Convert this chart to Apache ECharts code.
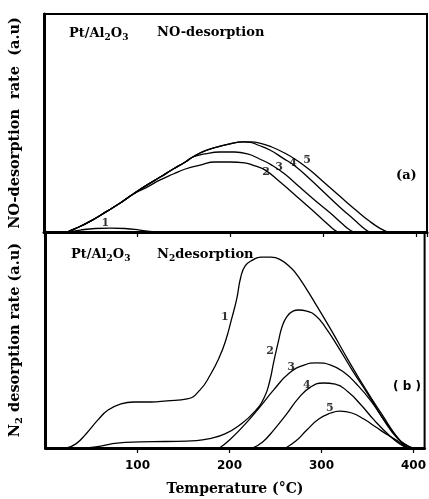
<!DOCTYPE html>
<html>
<head>
<meta charset="utf-8">
<script src="https://cdn.jsdelivr.net/npm/echarts@6/dist/echarts.min.js"></script>
<style>
  html, body { margin: 0; padding: 0; background: #fff; }
  #chart { width: 429px; height: 499px; }
</style>
</head>
<body>
<div id="chart"></div>
<script>
// Temperature axis ticks (°C)
const tempTicks = [100, 200, 300, 400];

// (a) NO-desorption rate, [temperature °C, rate a.u.]
const noCurve1 = [[25,0],[39,0.9],[55,1.6],[71,1.8],[87,1.6],[103,0.9],[119,0]];
const noCurve2 = [[25,0],[33,1.4],[50,5.0],[68,9.6],[82,13.3],[96,17.4],[111,20.6],[125,23.9],[139,26.6],[152,28.9],[168,30.7],[184,32.1],[200,32.1],[216,31.7],[227,30.3],[238,28.4],[254,22.9],[270,17.0],[286,11.0],[299,6.0],[311,1.4],[316,0]];
const noCurve3 = [[25,0],[33,1.4],[50,5.0],[68,9.6],[82,13.3],[96,17.4],[111,21.6],[125,25.2],[139,28.9],[152,32.1],[160,34.4],[173,35.8],[189,36.7],[205,36.7],[219,35.8],[232,33.5],[245,30.7],[259,26.6],[275,20.6],[291,14.7],[308,8.7],[320,4.1],[329,0.9],[334,0]];
const noCurve4 = [[25,0],[33,1.4],[50,5.0],[68,9.6],[82,13.3],[96,17.4],[111,21.6],[125,25.2],[139,28.9],[152,32.1],[160,34.4],[173,37.2],[187,39.0],[200,40.4],[214,41.3],[222,41.1],[230,39.9],[243,37.6],[257,33.9],[270,30.3],[286,24.3],[302,17.9],[318,11.5],[334,5.5],[345,1.4],[350,0]];
const noCurve5 = [[25,0],[33,1.4],[50,5.0],[68,9.6],[82,13.3],[96,17.4],[111,21.6],[125,25.2],[139,28.9],[152,32.1],[160,34.4],[173,37.2],[187,39.0],[200,40.4],[214,41.3],[222,41.3],[232,40.8],[245,39.0],[259,36.2],[273,32.6],[286,28.4],[302,22.5],[318,16.5],[334,10.6],[350,5.0],[361,1.8],[370,0]];
const noLabels = [[66,4.1,'1'],[239,27.5,'2'],[253,29.8,'3'],[268,31.7,'4'],[283,33.0,'5']];

// (b) N2 desorption rate, [temperature °C, rate a.u.]
const n2Curve1 = [[23,0],[33,1.9],[44,6.5],[57,13.0],[68,17.6],[82,20.4],[96,21.3],[114,21.3],[132,21.8],[154,22.7],[168,26.9],[179,33.8],[189,42.1],[196,50.0],[202,59.3],[208,69.4],[212,78.7],[217,84.3],[225,87.0],[234,88.4],[245,88.4],[256,87.0],[267,83.3],[275,79.2],[293,67.1],[311,54.2],[329,40.7],[347,27.8],[366,15.3],[383,4.6],[394,0.9],[400,0]];
const n2Curve2 = [[45,0],[60,0.9],[78,2.3],[103,2.8],[130,3.0],[164,3.4],[180,4.5],[195,6.5],[211,10.6],[227,16.7],[238,23.6],[244,31.5],[248,39.8],[253,49.1],[257,56.0],[262,60.6],[269,63.4],[275,63.9],[284,63.4],[294,61.1],[304,56.0],[318,46.8],[334,35.6],[351,24.5],[367,13.4],[383,4.2],[394,0.9],[399,0]];
const n2Curve3 = [[189,0],[200,3.7],[216,10.6],[232,18.5],[248,26.9],[265,34.7],[281,38.4],[295,39.4],[310,38.4],[324,35.2],[338,29.6],[353,22.2],[368,13.0],[381,5.6],[391,0.9],[396,0]];
const n2Curve4 = [[225,0],[236,2.8],[248,8.3],[262,15.7],[275,23.1],[288,28.2],[302,30.1],[315,29.6],[329,25.9],[343,19.9],[357,13.0],[372,6.5],[385,1.9],[394,0]];
const n2Curve5 = [[261,0],[272,3.2],[284,8.3],[297,13.4],[310,16.2],[320,17.1],[333,16.2],[346,13.4],[359,9.7],[372,6.0],[383,3.2],[391,0.9],[396,0]];
const n2Labels = [[195,60.6,'1'],[244,44.9,'2'],[267,37.5,'3'],[284,29.2,'4'],[309,18.5,'5']];

const SERIF = '"DejaVu Serif", "Liberation Serif", serif';
const SANS = '"DejaVu Sans", "Liberation Sans", sans-serif';

function curve(data, idx) {
  return {
    type: 'line', data: data, xAxisIndex: idx, yAxisIndex: idx,
    showSymbol: false, smooth: 0.5,
    lineStyle: { color: '#000', width: 1.3 }, silent: true
  };
}
function labelSeries(data, idx) {
  return {
    type: 'scatter', data: data, xAxisIndex: idx, yAxisIndex: idx,
    symbolSize: 0, silent: true,
    label: {
      show: true, position: 'inside', color: '#000',
      fontFamily: SERIF, fontWeight: 'bold', fontSize: 11,
      formatter: p => p.value[2]
    }
  };
}

const xCommon = {
  type: 'value', min: 0, max: 412, interval: 100,
  splitLine: { show: false },
  axisLine: { lineStyle: { color: '#000', width: 3 } },
  axisTick: { inside: false, length: 5, lineStyle: { color: '#000', width: 1.2 } }
};
const yCommon = {
  type: 'value', min: 0, max: 100,
  splitLine: { show: false }, axisLabel: { show: false }, axisTick: { show: false },
  axisLine: { lineStyle: { color: '#000', width: 3 } },
  nameLocation: 'middle', nameRotate: 90, nameGap: 21,
  nameTextStyle: { fontFamily: SERIF, fontWeight: 'bold', fontSize: 14.5, color: '#000',
    rich: { s: { fontFamily: SERIF, fontWeight: 'bold', fontSize: 10, color: '#000', verticalAlign: 'bottom', padding: [8, 0, 0, 0] } } }
};

const subRich = { s: { fontFamily: SERIF, fontWeight: 'bold', fontSize: 9, color: '#000', padding: [7, 0, 0, 0] } };
const titleStyle = { fontFamily: SERIF, fontWeight: 'bold', fontSize: 13, color: '#000', rich: subRich };

const chart = echarts.init(document.getElementById('chart'), null, { renderer: 'canvas' });
chart.setOption({
  animation: false,
  backgroundColor: '#fff',
  title: [
    { text: 'Pt/Al{s|2}O{s|3}', left: 64, top: 21, textStyle: titleStyle },
    { text: 'NO-desorption', left: 152, top: 21, textStyle: titleStyle },
    { text: '(a)', left: 391, top: 164, textStyle: titleStyle },
    { text: 'Pt/Al{s|2}O{s|3}', left: 66, top: 242, textStyle: titleStyle },
    { text: 'N{s|2}desorption', left: 152, top: 242, textStyle: titleStyle },
    { text: '( b )', left: 388, top: 376, textStyle: Object.assign({}, titleStyle, { fontFamily: SANS, fontSize: 12 }) }
  ],
  grid: [
    { left: 43, right: 2, top: 14, height: 218, show: true, borderColor: '#000', borderWidth: 2, containLabel: false },
    { left: 43, right: 2, top: 232, height: 216, show: true, borderColor: '#000', borderWidth: 2, containLabel: false }
  ],
  xAxis: [
    Object.assign({}, xCommon, { gridIndex: 0, axisLabel: { show: false } }),
    Object.assign({}, xCommon, {
      gridIndex: 1,
      name: 'Temperature (°C)', nameLocation: 'middle', nameGap: 34,
      nameTextStyle: { fontFamily: SERIF, fontWeight: 'bold', fontSize: 14, color: '#000' },
      axisLabel: {
        show: true, margin: 12, color: '#000', fontFamily: SANS, fontWeight: 'bold', fontSize: 12,
        showMinLabel: false, showMaxLabel: false,
        formatter: v => (tempTicks.indexOf(v) >= 0 ? String(v) : '')
      }
    })
  ],
  yAxis: [
    Object.assign({}, yCommon, { gridIndex: 0, name: 'NO-desorption  rate  (a.u)' }),
    Object.assign({}, yCommon, { gridIndex: 1, name: 'N{s|2} desorption rate (a.u)' })
  ],
  series: [
    curve(noCurve1, 0), curve(noCurve2, 0), curve(noCurve3, 0), curve(noCurve4, 0), curve(noCurve5, 0),
    labelSeries(noLabels, 0),
    curve(n2Curve1, 1), curve(n2Curve2, 1), curve(n2Curve3, 1), curve(n2Curve4, 1), curve(n2Curve5, 1),
    labelSeries(n2Labels, 1)
  ]
});
</script>
</body>
</html>
